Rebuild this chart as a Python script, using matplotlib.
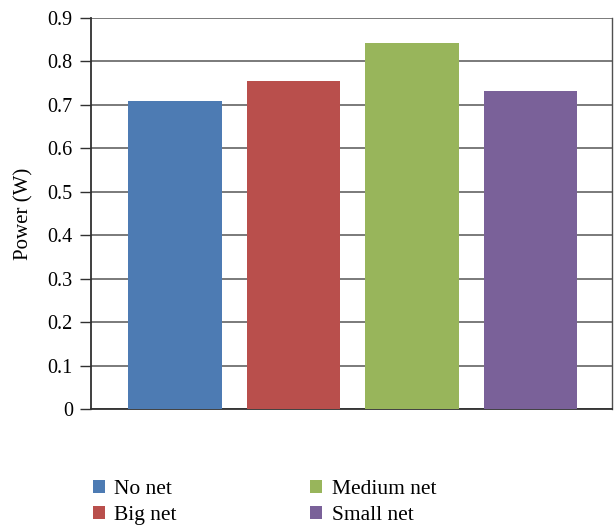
import matplotlib.pyplot as plt
from matplotlib.patches import Patch

# Power draw for each net configuration
series = ["No net", "Big net", "Medium net", "Small net"]
power = [0.709, 0.755, 0.842, 0.732]
colors = ["#4D7BB3", "#B94F4C", "#98B55B", "#7A6199"]
yticks = [0, 0.1, 0.2, 0.3, 0.4, 0.5, 0.6, 0.7, 0.8, 0.9]
ytick_labels = ["0", "0.1", "0.2", "0.3", "0.4", "0.5", "0.6", "0.7", "0.8", "0.9"]

plt.rcParams["font.family"] = ["Liberation Serif", "DejaVu Serif"]

fig = plt.figure(figsize=(6.14, 5.25), dpi=100)
ax = fig.add_axes([0.148, 0.221, 0.849, 0.745])

x = range(len(series))
ax.bar(x, power, width=0.79, color=colors, zorder=3)

ax.set_ylim(0, 0.9)
ax.set_xlim(-0.71, 3.69)
ax.set_yticks(yticks)
ax.set_yticklabels(ytick_labels, fontsize=14.5)
ax.set_xticks([])
ax.yaxis.grid(True, color="#707070", linewidth=1.3, zorder=0)
ax.tick_params(axis="y", length=8, width=1.0, color="#303030", direction="out", pad=5)

for side in ["left", "bottom"]:
    ax.spines[side].set_color("#303030")
    ax.spines[side].set_linewidth(1.3)
ax.spines["top"].set_visible(False)
ax.spines["right"].set_color("#505050")
ax.spines["right"].set_linewidth(1.0)

ax.set_ylabel("Power (W)", fontsize=15, labelpad=10)

handles = [Patch(facecolor=c, edgecolor="none") for c in colors]
fig.legend(handles, series, loc="upper left", bbox_to_anchor=(0.137, 0.102),
           ncol=2, frameon=False, fontsize=15.5, handlelength=0.55, handleheight=0.55,
           handletextpad=0.45, columnspacing=6.2, labelspacing=0.33, borderaxespad=0)

fig.savefig("out.png", dpi=100)
